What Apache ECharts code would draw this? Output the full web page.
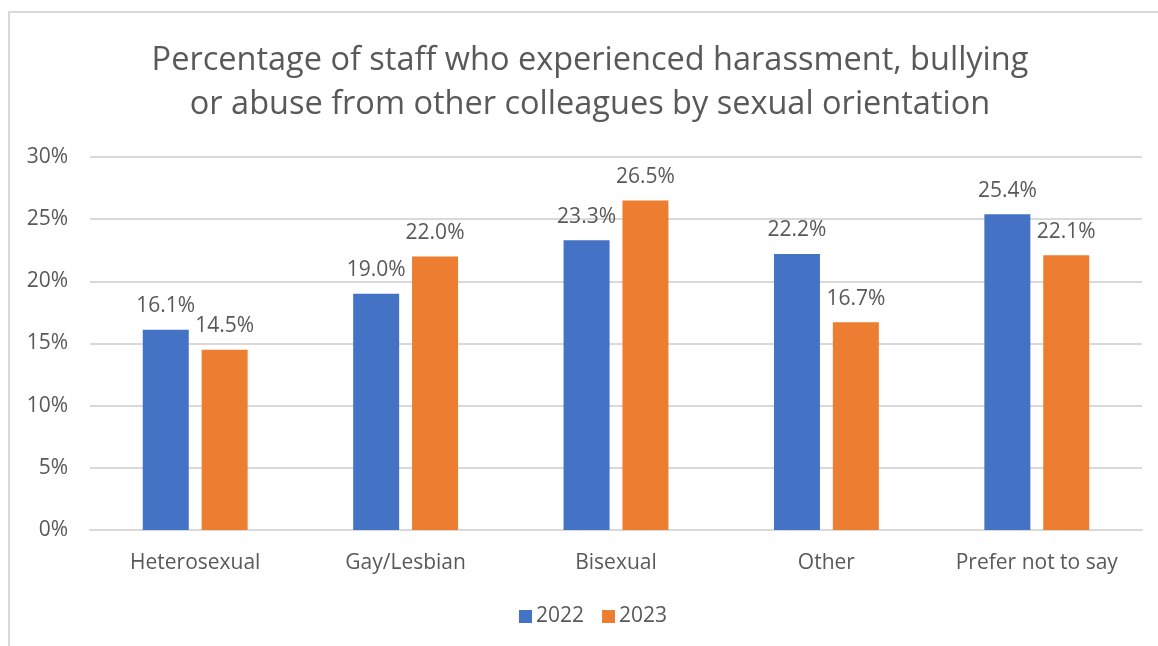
<!DOCTYPE html>
<html>
<head>
<meta charset="utf-8">
<script src="https://cdn.jsdelivr.net/npm/echarts@6/dist/echarts.min.js"></script>
<style>
  html, body { margin: 0; padding: 0; background: #ffffff; }
  #frame { position: absolute; left: 8px; top: 11px; width: 1160px; height: 650px; border: 2px solid #d9d9d9; box-sizing: border-box; }
  #chart { position: absolute; left: 0; top: 0; width: 1158px; height: 646px; }
</style>
</head>
<body>
<div id="frame"></div>
<div id="chart"></div>
<script>
const titleLines = [
  'Percentage of staff who experienced harassment, bullying',
  'or abuse from other colleagues by sexual orientation'
];
const categories = ['Heterosexual', 'Gay/Lesbian', 'Bisexual', 'Other', 'Prefer not to say'];
const seriesNames = ['2022', '2023'];
const values2022 = [16.1, 19.0, 23.3, 22.2, 25.4];
const values2023 = [14.5, 22.0, 26.5, 16.7, 22.1];
const yTicks = [0, 5, 10, 15, 20, 25, 30];

const FONT = '"Open Sans", "Noto Sans", sans-serif';
const TEXT = '#595959';
const colors = ['#4472C4', '#ED7D31'];

const chart = echarts.init(document.getElementById('chart'), null, { renderer: 'canvas' });

const labelCfg = {
  show: true,
  position: 'top',
  distance: 13,
  color: TEXT,
  fontFamily: FONT,
  fontSize: 21,
  formatter: p => p.value.toFixed(1) + '%'
};

chart.setOption({
  backgroundColor: 'transparent',
  animation: false,
  color: colors,
  title: {
    text: titleLines.join('\n'),
    left: 585,
    top: 34,
    textAlign: 'center',
    textStyle: {
      color: TEXT,
      fontFamily: FONT,
      fontSize: 32.5,
      fontWeight: 'normal',
      lineHeight: 44
    }
  },
  legend: {
    data: seriesNames,
    bottom: 14,
    left: 514,
    itemWidth: 13,
    itemHeight: 13,
    itemGap: 18,
    icon: 'rect',
    textStyle: { color: TEXT, fontFamily: FONT, fontSize: 21, padding: [0, 0, 0, -1] }
  },
  grid: { left: 90, right: 16, top: 157, bottom: 116, containLabel: false },
  xAxis: {
    type: 'category',
    data: categories,
    axisLine: { show: true, lineStyle: { color: '#d9d9d9', width: 2 } },
    axisTick: { show: false },
    axisLabel: { interval: 0, color: TEXT, fontFamily: FONT, fontSize: 21, margin: 23 }
  },
  yAxis: {
    type: 'value',
    min: yTicks[0],
    max: yTicks[yTicks.length - 1],
    interval: 5,
    axisLine: { show: false },
    axisTick: { show: false },
    splitLine: { lineStyle: { color: '#d9d9d9', width: 2 } },
    axisLabel: { color: TEXT, fontFamily: FONT, fontSize: 21, margin: 22, formatter: v => v + '%' }
  },
  series: [
    { name: seriesNames[0], type: 'bar', data: values2022, barWidth: 46, barGap: '28%', label: labelCfg },
    { name: seriesNames[1], type: 'bar', data: values2023, barWidth: 46, barGap: '28%', label: labelCfg }
  ]
});
</script>
</body>
</html>
